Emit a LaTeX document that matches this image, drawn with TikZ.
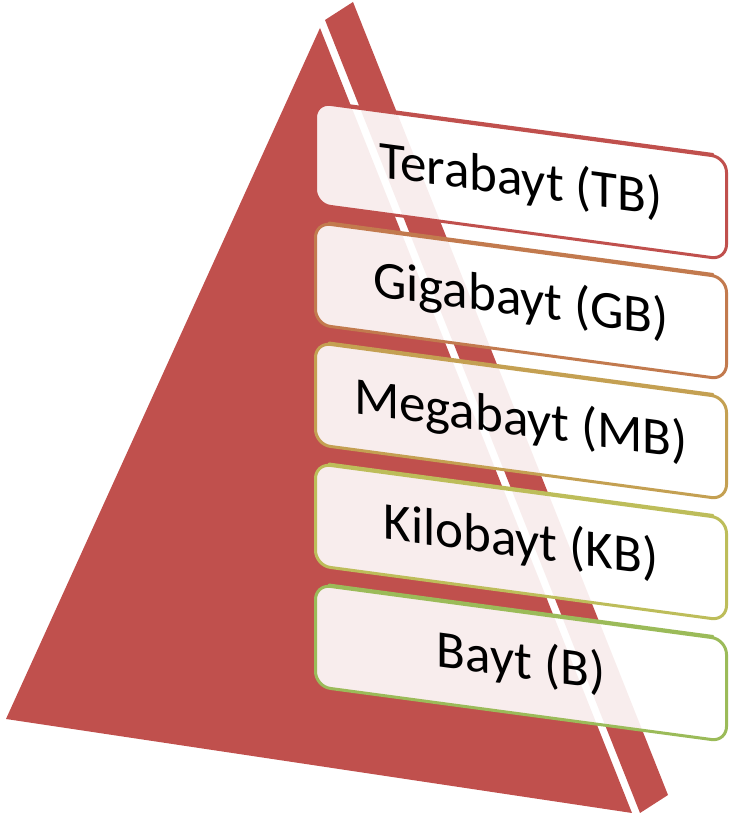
\documentclass[tikz,border=0pt]{standalone}
\usepackage{fontspec}
\setmainfont{Carlito}
\definecolor{pyr}{HTML}{C0504D}
\definecolor{tbcol}{HTML}{C0504D}
\definecolor{gbcol}{HTML}{C27A4E}
\definecolor{mbcol}{HTML}{C4A052}
\definecolor{kbcol}{HTML}{BDBD5A}
\definecolor{bcol}{HTML}{9BBB59}
\tikzset{
  face/.style={fill=pyr, draw=none},
  levelbox/.style={draw=#1, line width=3pt, fill=white, fill opacity=0.9,
    draw opacity=1, text opacity=1, text=black, rounded corners=15pt,
    minimum width=411pt, minimum height=102pt, inner sep=0pt,
    font=\fontsize{53}{62}\selectfont},
  topedge/.style={draw=#1, line width=2.5pt, line cap=round},
}
\begin{document}
\begin{tikzpicture}[x=1pt,y=1pt]
\useasboundingbox (0,0) rectangle (732,818);
% pyramid front face
\fill[face] (320,790) -- (6,99) -- (632,5) -- cycle;
% pyramid side face
\fill[face] (325,798) -- (353,816) -- (668,23) -- (640,5) -- cycle;
% levels
\begin{scope}[shift={(521,638)}, yslant=-0.134, transform shape]
  \node[levelbox=tbcol] (tb) at (0,-1) {Terabayt (TB)};
  \draw[topedge=tbcol] (-192,51.5) -- (192,51.5);
\end{scope}
\begin{scope}[shift={(521,518)}, yslant=-0.134, transform shape]
  \node[levelbox=gbcol] (gb) at (0,-1) {Gigabayt (GB)};
  \draw[topedge=gbcol] (-192,51.5) -- (192,51.5);
\end{scope}
\begin{scope}[shift={(521,398)}, yslant=-0.134, transform shape]
  \node[levelbox=mbcol] (mb) at (0,-1) {Megabayt (MB)};
  \draw[topedge=mbcol] (-192,51.5) -- (192,51.5);
\end{scope}
\begin{scope}[shift={(521,277)}, yslant=-0.134, transform shape]
  \node[levelbox=kbcol] (kb) at (0,-1) {Kilobayt (KB)};
  \draw[topedge=kbcol] (-192,51.5) -- (192,51.5);
\end{scope}
\begin{scope}[shift={(521,156)}, yslant=-0.134, transform shape]
  \node[levelbox=bcol] (b) at (0,-1) {Bayt (B)};
  \draw[topedge=bcol] (-192,51.5) -- (192,51.5);
\end{scope}
\end{tikzpicture}
\end{document}
